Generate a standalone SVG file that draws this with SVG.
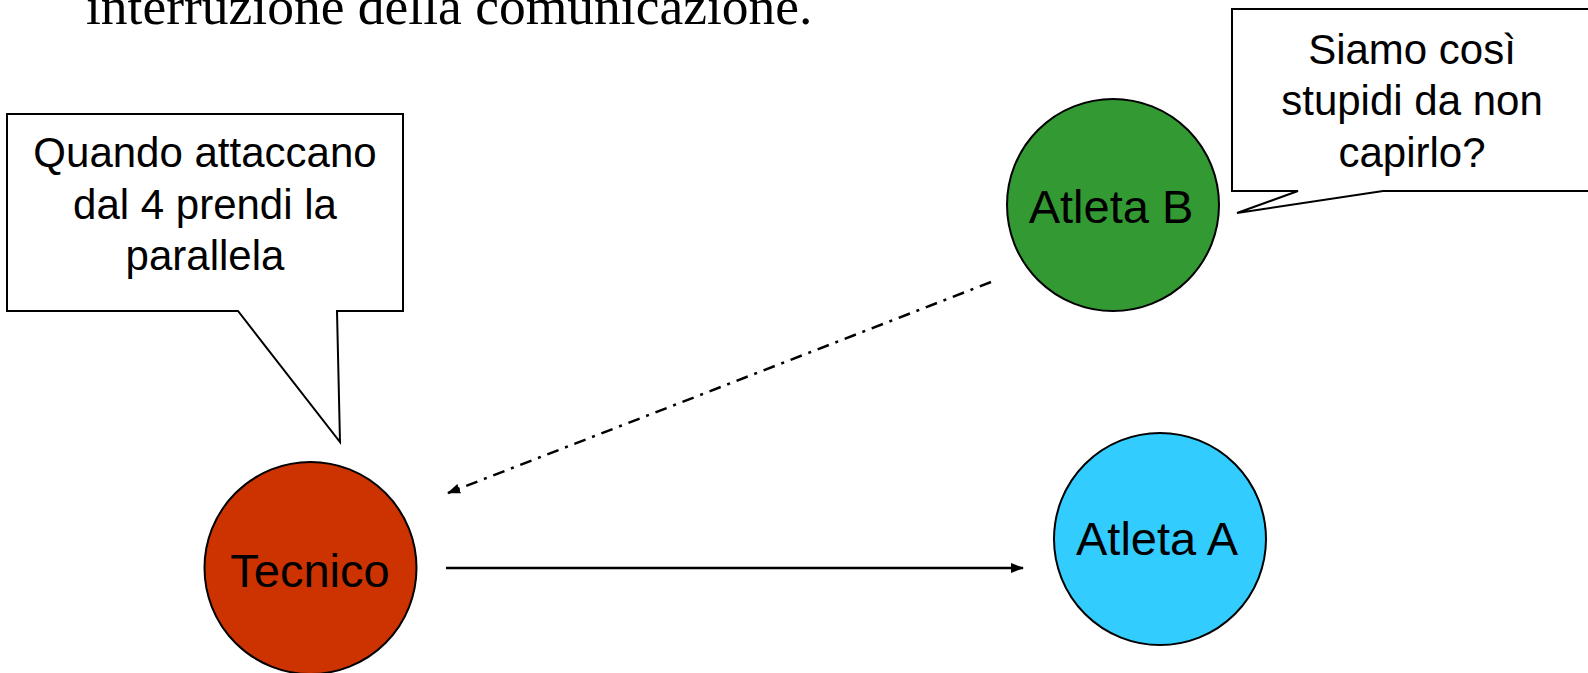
<svg xmlns="http://www.w3.org/2000/svg" width="1588" height="673" viewBox="0 0 1588 673">
<style>
.lbl{font-family:"Liberation Sans",Arial,sans-serif;fill:#000;text-anchor:middle}
.call{fill:#fff;stroke:#000;stroke-width:2;stroke-linejoin:miter}
.node{stroke:#000;stroke-width:2}
.conn{fill:none;stroke:#000;stroke-width:2.5}
</style>
<defs>
<marker id="arr" markerUnits="userSpaceOnUse" markerWidth="14" markerHeight="12" viewBox="0 0 14 12" refX="12" refY="6" orient="auto">
<path d="M0,1 L13,6 L0,11 Z" fill="#000"/>
</marker>
</defs>
<text x="86" y="24" style="font-family:'Liberation Serif','Times New Roman',serif;font-size:53.5px;fill:#000">interruzione della comunicazione.</text>
<g id="callout-tecnico">
<path class="call" d="M7,114 H403 V311 H337 L340,442 L238,311 H7 Z"/>
<text class="lbl" font-size="42" x="205" y="167">Quando attaccano</text>
<text class="lbl" font-size="42" x="205" y="219">dal 4 prendi la</text>
<text class="lbl" font-size="42" x="205" y="270">parallela</text>
</g>
<g id="callout-atletaB">
<path class="call" d="M1232,9 H1592 V191 H1383 L1237,213 L1298,191 H1232 Z"/>
<text class="lbl" font-size="42" x="1412" y="64">Siamo così</text>
<text class="lbl" font-size="42" x="1412" y="115">stupidi da non</text>
<text class="lbl" font-size="42" x="1412" y="167">capirlo?</text>
</g>
<g id="connectors">
<line class="conn" x1="446" y1="568" x2="1023" y2="568" marker-end="url(#arr)"/>
<line class="conn" x1="991" y1="282" x2="448" y2="493" stroke-width="3" stroke-dasharray="12 7 3 7" marker-end="url(#arr)"/>
</g>
<g id="tecnico">
<circle class="node" cx="310.5" cy="568" r="106" fill="#CC3300"/>
<text class="lbl" font-size="47" x="310" y="587">Tecnico</text>
</g>
<g id="atletaB">
<circle class="node" cx="1113" cy="205" r="106" fill="#339933"/>
<text class="lbl" font-size="47" x="1111" y="223">Atleta B</text>
</g>
<g id="atletaA">
<circle class="node" cx="1160" cy="539" r="106" fill="#33CCFF"/>
<text class="lbl" font-size="47" x="1157" y="555">Atleta A</text>
</g>
</svg>
